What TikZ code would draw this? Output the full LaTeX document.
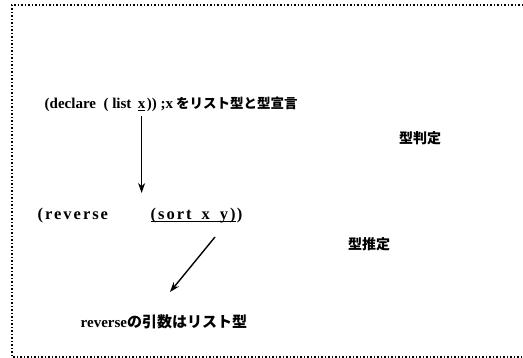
\documentclass[tikz,border=0pt]{standalone}
\usepackage{fontspec}
\setmainfont{Liberation Serif}
\newfontfamily\codefont{Liberation Serif}
\newfontfamily\widecode{Liberation Serif}[LetterSpace=12]
\newfontfamily\jp{Noto Sans CJK JP}
\usepackage{tikz}
\usetikzlibrary{arrows.meta}

\begin{document}
\begin{tikzpicture}[x=1pt,y=-1pt,>={Stealth[length=10pt,width=7pt]},line width=1.4pt]
  \tikzstyle{code}=[inner sep=0pt,anchor=base west,font=\codefont\bfseries\fontsize{15}{18}\selectfont]
  \tikzstyle{widecode}=[code,font=\widecode\bfseries\fontsize{16.5}{18}\selectfont]
  \tikzstyle{jplabel}=[inner sep=0pt,font=\jp\bfseries\fontsize{14}{16}\selectfont]
  \tikzstyle{frame}=[line width=1.1pt,dash pattern=on 1.1pt off 2.4pt]

  \useasboundingbox (0,0) rectangle (523,358);
  \draw [frame] (523,5) -- (12,5) -- (12,357) -- (523,357);

  % declaration line
  \node [code] (decl) at (44,109) {(declare\ \ (\ list};
  \node [code] (xvar) at ([xshift=5pt]decl.base east) {\underline{x}};
  \node [code] (declrest) at (xvar.base east)
    {))\ ;x{\jp\fontsize{13.5}{16}\selectfont\ をリスト型と型宣言}};
  \node [jplabel] (check) at (420,138) {型判定};

  % call line
  \node [widecode] (rev) at (37,220) {(reverse};
  \node [widecode] (sort) at (150,220)
    {\underline{\smash{(sort\hspace{10pt}x\hspace{10pt}y)}}};
  \node [widecode] (revclose) at (sort.base east) {)};
  \node [jplabel] (infer) at (369,244) {型推定};

  \node [code] (result) at (80,328)
    {reverse{\jp\fontsize{15}{16}\selectfont の引数はリスト型}};

  \coordinate (rev top) at (xvar.center |- 0,193);
  \coordinate (sort bot) at (215,237);
  \coordinate (result top) at (170,292);

  \draw [->] ([yshift=-4pt]xvar.south) -- (rev top);
  \draw [->] (sort bot) -- (result top);
\end{tikzpicture}
\end{document}
